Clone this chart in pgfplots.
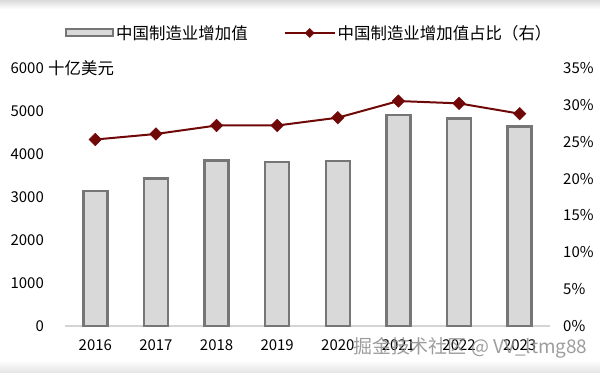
\documentclass[border=0pt]{standalone}
\usepackage{fontspec}
\setmainfont{Noto Sans CJK SC}
\usepackage{pgfplots}
\usepackage{pgfplotstable}
\pgfplotsset{compat=1.18}
\definecolor{barfill}{RGB}{217,217,217}
\definecolor{bardraw}{RGB}{118,118,118}
\definecolor{maroonline}{RGB}{112,8,8}
\definecolor{axisgray}{RGB}{212,212,212}
\pgfplotsset{
  mybarlegend/.style={legend image code/.code={\draw[##1] (0bp,-3.5bp) rectangle (47bp,3.5bp);}},
  mylinelegend/.style={legend image code/.code={\draw[##1, mark=none] (0bp,0bp) -- (50bp,0bp); \draw[##1, mark size=3.2bp] plot coordinates {(25bp,0bp)};}},
}

\pgfplotstableread{
x year val pct
0 2016 3140 25.3
1 2017 3435 26.05
2 2018 3853 27.2
3 2019 3814 27.2
4 2020 3837 28.26
5 2021 4907 30.52
6 2022 4830 30.2
7 2023 4644 28.8
}\data

\begin{document}
\begin{tikzpicture}[x=1bp,y=1bp]
\useasboundingbox (0,0) rectangle (600,372);
\fill[white] (0,0) rectangle (600,372);
\shade[top color=black!14, bottom color=white] (0,363) rectangle (600,372);
\shade[top color=white, bottom color=black!10] (0,0) rectangle (600,12);
\pgfplotsset{common/.style={
  at={(65bp,46bp)}, anchor=south west, scale only axis,
  width=485bp, height=258bp, xmin=-0.5, xmax=7.5,
  major tick length=0pt,
  /pgf/number format/assume math mode=true,
  /pgf/number format/1000 sep={},
  tick label style={font=\fontsize{15}{18}\selectfont, text=black},
}}
\begin{axis}[common,
  ymin=0, ymax=6000, ytick={0,1000,...,6000},
  axis y line*=left, axis x line*=bottom,
  x axis line style={draw=axisgray, line width=1.6bp, -},
  y axis line style={draw=none},
  xtick={0,...,7}, xticklabels={2016,2017,2018,2019,2020,2021,2022,2023},
  xticklabel style={anchor=center, inner sep=0pt, yshift=-19bp},
  yticklabel style={anchor=east, inner sep=0pt, xshift=-21bp},
  clip=false,
]
\addplot[ybar, bar width=24bp, bar shift=0pt, fill=barfill, draw=bardraw, line width=2.6bp] table[x=x,y=val]{\data};
\node[anchor=west, inner sep=0pt, font=\fontsize{16.5}{18}\selectfont] at (rel axis cs:0,1) [xshift=-17bp] {十亿美元};
\end{axis}
\begin{axis}[common,
  ymin=0, ymax=35, ytick={0,5,...,35},
  axis y line*=right, axis x line=none,
  y axis line style={draw=none},
  yticklabel={\pgfmathprintnumber{\tick}\%},
  yticklabel style={anchor=west, inner sep=0pt, xshift=13bp},
  legend columns=2,
  legend style={at={(0,1.1357)}, anchor=west, draw=none, fill=none, inner sep=0pt,
    font=\fontsize{16.5}{18}\selectfont,
    /tikz/every even column/.append style={column sep=34bp}},
]
\addlegendimage{fill=barfill, draw=bardraw, line width=2bp, mybarlegend}
\addlegendentry{中国制造业增加值}
\addplot[color=maroonline, line width=2bp, mark=square*, mark size=4.4bp,
  mark options={fill=maroonline, solid, line width=0.5bp, rotate=45}, mylinelegend]
  table[x=x,y=pct]{\data};
\addlegendentry{中国制造业增加值占比（右）}
\end{axis}
\node[anchor=west, inner sep=0pt, text=black!45, opacity=0.85, font=\fontsize{19}{22}\selectfont] at (353,24) {掘金技术社区 @ VV\_ltmg88};
\end{tikzpicture}
\end{document}
